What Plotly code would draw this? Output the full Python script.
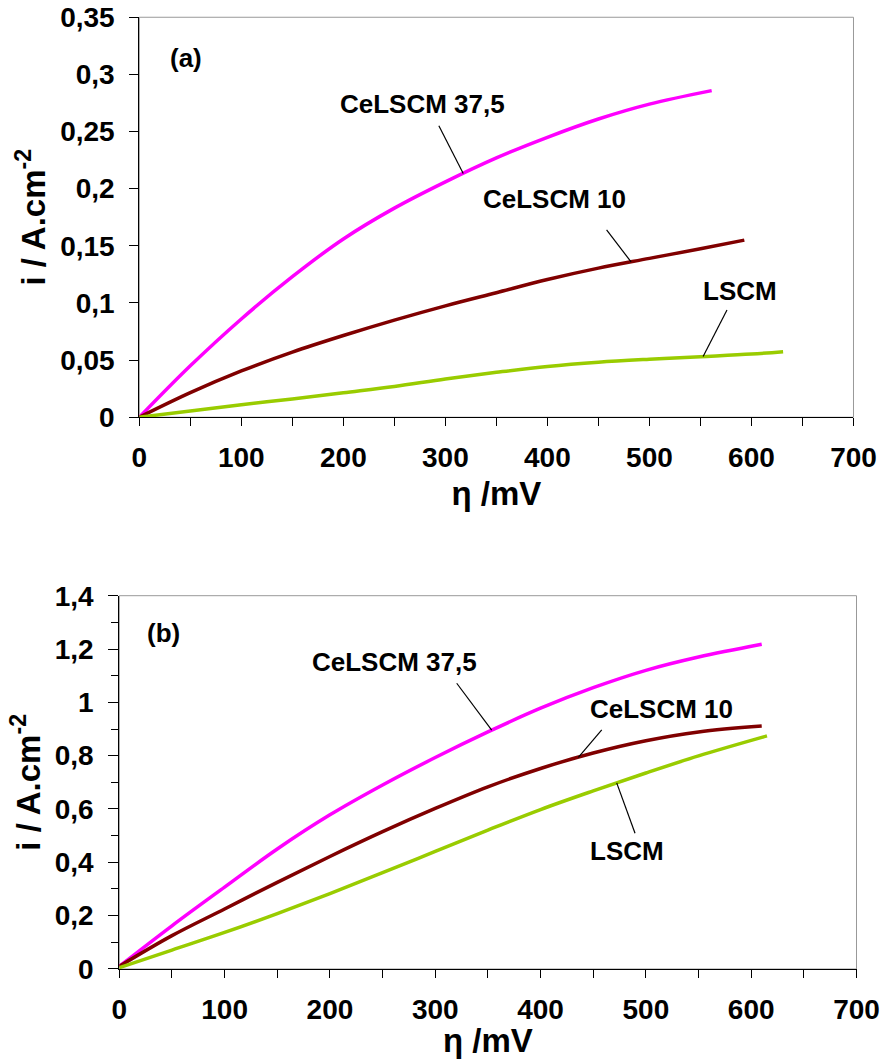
import numpy as np
import plotly.graph_objects as go

# ---------------- Panel (a) data ----------------
a_eta_c375 = [0, 50, 100, 150, 200, 250, 300, 350, 400, 450, 500, 561]
a_i_c375 = [0, 0.045, 0.086, 0.123, 0.156, 0.183, 0.206, 0.227, 0.245, 0.261, 0.274, 0.2858]
a_eta_c10 = [0, 50, 100, 150, 200, 250, 300, 350, 400, 450, 500, 550, 593]
a_i_c10 = [0, 0.0215, 0.0405, 0.057, 0.0715, 0.085, 0.0975, 0.109, 0.1205, 0.1305, 0.139, 0.1475, 0.155]
a_eta_lscm = [0, 50, 100, 150, 200, 250, 300, 350, 400, 450, 500, 550, 600, 631]
a_i_lscm = [0, 0.0055, 0.011, 0.016, 0.0215, 0.027, 0.0335, 0.0393, 0.0445, 0.0482, 0.0508, 0.053, 0.0553, 0.0574]

# ---------------- Panel (b) data ----------------
b_eta_c375 = [0, 50, 100, 150, 200, 250, 300, 350, 400, 450, 500, 550, 610]
b_i_c375 = [0.01, 0.162, 0.307, 0.450, 0.578, 0.690, 0.793, 0.889, 0.978, 1.055, 1.120, 1.170, 1.218]
b_eta_c10 = [0, 50, 100, 150, 200, 250, 300, 350, 400, 450, 500, 550, 610]
b_i_c10 = [0.01, 0.125, 0.225, 0.325, 0.422, 0.515, 0.602, 0.683, 0.752, 0.810, 0.856, 0.889, 0.911]
b_eta_lscm = [0, 50, 100, 150, 200, 250, 300, 350, 400, 450, 500, 550, 615]
b_i_lscm = [0.005, 0.071, 0.137, 0.208, 0.283, 0.361, 0.441, 0.521, 0.598, 0.668, 0.735, 0.799, 0.874]

series_names = ["CeLSCM 37,5", "CeLSCM 10", "LSCM"]
colors = ["#FF00FF", "#800000", "#99CC00"]

FONT = "Liberation Sans, Arial, sans-serif"

fig = go.Figure()

panel_a = [(a_eta_c375, a_i_c375), (a_eta_c10, a_i_c10), (a_eta_lscm, a_i_lscm)]
panel_b = [(b_eta_c375, b_i_c375), (b_eta_c10, b_i_c10), (b_eta_lscm, b_i_lscm)]

for (xs, ys), name, col in zip(panel_a, series_names, colors):
    fig.add_trace(go.Scatter(x=xs, y=ys, mode="lines", name=name,
                             line=dict(color=col, width=3.5, shape="spline", smoothing=1.0),
                             xaxis="x", yaxis="y", showlegend=False))
for (xs, ys), name, col in zip(panel_b, series_names, colors):
    fig.add_trace(go.Scatter(x=xs, y=ys, mode="lines", name=name,
                             line=dict(color=col, width=3.5, shape="spline", smoothing=1.0),
                             xaxis="x2", yaxis="y2", showlegend=False))

tickfont = dict(family=FONT, size=28, color="black", weight="bold")
titlefont = dict(family=FONT, size=33, color="black", weight="bold")
labfont = dict(family=FONT, size=26, color="black", weight="bold")

common_x = dict(range=[0, 700], tick0=0, dtick=100, showline=True, linecolor="black", linewidth=1,
                ticks="outside", ticklen=8, tickcolor="black", tickwidth=1, showgrid=False,
                zeroline=False, tickfont=tickfont, automargin=False, ticklabelstandoff=7,
                minor=dict(dtick=50, ticks="outside", ticklen=8, tickcolor="black", tickwidth=1, showgrid=False))

fig.update_layout(
    width=885, height=1059,
    margin=dict(l=0, r=0, t=0, b=0, pad=0),
    paper_bgcolor="white", plot_bgcolor="white",
    separators=", ",
    xaxis=dict(domain=[0.1574, 0.9644], anchor="y",
               title=dict(text="η /mV", font=titlefont, standoff=10), **common_x),
    yaxis=dict(domain=[0.606, 0.9837], anchor="x", range=[0, 0.35], tick0=0, dtick=0.05,
               showline=True, linecolor="black", linewidth=1, ticks="outside", ticklen=9,
               tickcolor="black", showgrid=False, zeroline=False, tickfont=tickfont,
               ticklabelstandoff=9, automargin=False,
               title=dict(text="i / A.cm<sup>-2</sup>", font=titlefont, standoff=4)),
    xaxis2=dict(domain=[0.1348, 0.9678], anchor="y2",
                title=dict(text="η /mV", font=titlefont, standoff=0), **common_x),
    yaxis2=dict(domain=[0.085, 0.4375], anchor="x2", range=[0, 1.4], tick0=0, dtick=0.2,
                showline=True, linecolor="black", linewidth=1, ticks="outside", ticklen=10,
                tickcolor="black", showgrid=False, zeroline=False, tickfont=tickfont,
                ticklabelstandoff=9, automargin=False,
                minor=dict(dtick=0.1, ticks="outside", ticklen=7, tickcolor="black", showgrid=False),
                title=dict(text="i / A.cm<sup>-2</sup>", font=titlefont, standoff=4)),
)

# plot-area frames (grey, top/right)
for xr, yr in [("x domain", "y domain"), ("x2 domain", "y2 domain")]:
    fig.add_shape(type="rect", xref=xr, yref=yr, x0=0, x1=1, y0=0, y1=1,
                  line=dict(color="#999999", width=1), layer="below")

# labels with leader lines: (text, label x, label y, leader start x, leader start y, curve x)
a_labels = [("CeLSCM 37,5", 278, 0.274, 293.6, 0.2551, 317.5),
            ("CeLSCM 10", 407.4, 0.191, 458, 0.1639, 482),
            ("LSCM", 588.6, 0.1105, 576, 0.0939, 552.6)]
b_labels = [("CeLSCM 37,5", 261.3, 1.1515, 320.4, 1.0716, 353.6),
            ("CeLSCM 10", 515.3, 0.975, 458.1, 0.8965, 435.9),
            ("LSCM", 481.8, 0.4426, 489.7, 0.509, 472.3)]

for labels, data, xa, ya in [(a_labels, panel_a, "x", "y"), (b_labels, panel_b, "x2", "y2")]:
    for (txt, lx, ly, sx, sy, cx), (xs, ys) in zip(labels, data):
        cy = float(np.interp(cx, xs, ys))
        fig.add_annotation(x=lx, y=ly, xref=xa, yref=ya, text=txt, showarrow=False,
                           font=labfont, xanchor="center", yanchor="middle")
        fig.add_shape(type="line", xref=xa, yref=ya, x0=sx, y0=sy, x1=cx, y1=cy,
                      line=dict(color="black", width=1.2))

fig.add_annotation(x=46.2, y=0.314, xref="x", yref="y", text="(a)", showarrow=False,
                   font=labfont, xanchor="center", yanchor="middle")
fig.add_annotation(x=41.5, y=1.26, xref="x2", yref="y2", text="(b)", showarrow=False,
                   font=labfont, xanchor="center", yanchor="middle")

fig.write_html("out.html", config={"displayModeBar": False},
               post_script="document.body.style.margin='0';document.body.style.overflow='hidden';")
